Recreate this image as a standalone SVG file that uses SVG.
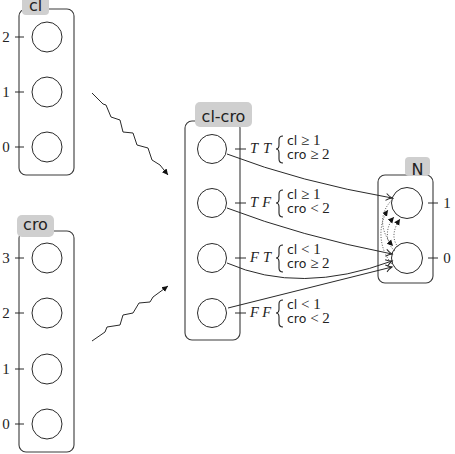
<svg xmlns="http://www.w3.org/2000/svg" width="455" height="454" viewBox="0 0 455 454">
<style>
.box{fill:none;stroke:#3a3a3a;stroke-width:1.1}
.lab{fill:#cfcfcf;stroke:none}
.st{fill:#fff;stroke:#2a2a2a;stroke-width:1}
.tick{stroke:#2a2a2a;stroke-width:1}
.num{font-family:"Liberation Serif",serif;font-size:15px;fill:#222}
.sans{font-family:"DejaVu Sans",sans-serif;font-size:16px;fill:#222}
.math{font-family:"Liberation Serif",serif;font-style:italic;font-size:14.5px;fill:#222}
.cond{font-family:"Liberation Serif",serif;font-size:15px;fill:#222}
.cs{font-family:"DejaVu Sans",sans-serif;font-size:12.5px}
.edge{fill:none;stroke:#2a2a2a;stroke-width:1}
.dot{fill:none;stroke:#555;stroke-width:1;stroke-dasharray:1 1.6}
.brace{fill:none;stroke:#222;stroke-width:1.1}
</style>
<defs>
<marker id="to" markerWidth="10" markerHeight="10" refX="7" refY="5" orient="auto" markerUnits="userSpaceOnUse">
<path d="M1,1.5 Q4,4 7,5 Q4,6 1,8.5" fill="none" stroke="#2a2a2a" stroke-width="1"/>
</marker>
<marker id="tri" markerWidth="8" markerHeight="8" refX="6" refY="4" orient="auto" markerUnits="userSpaceOnUse">
<path d="M0,1 L6,4 L0,7 Z" fill="#111"/>
</marker>
<path id="br" d="M283,-13 Q279,-13 279,-9 L279,-4 Q279,0 276,0 Q279,0 279,4 L279,10 Q279,14 283,14"/>
</defs>

<g id="cl">
<rect class="box" x="19" y="9" width="55" height="166" rx="7"/>
<rect class="lab" x="22" y="-8" width="27" height="23" rx="4"/>
<text class="sans" x="35.5" y="11" text-anchor="middle">cl</text>
<line class="tick" x1="15" y1="37" x2="24" y2="37"/>
<line class="tick" x1="15" y1="92" x2="24" y2="92"/>
<line class="tick" x1="15" y1="147" x2="24" y2="147"/>
<text class="num" x="6" y="42" text-anchor="middle">2</text>
<text class="num" x="6" y="97" text-anchor="middle">1</text>
<text class="num" x="6" y="152" text-anchor="middle">0</text>
<circle class="st" cx="47" cy="37" r="15"/>
<circle class="st" cx="47" cy="92" r="15"/>
<circle class="st" cx="47" cy="147" r="15"/>
</g>

<g id="cro">
<rect class="box" x="19" y="231" width="55" height="221" rx="7"/>
<rect class="lab" x="17" y="215" width="37" height="22" rx="5"/>
<text class="sans" x="35.5" y="230" text-anchor="middle">cro</text>
<line class="tick" x1="15" y1="258" x2="24" y2="258"/>
<line class="tick" x1="15" y1="313" x2="24" y2="313"/>
<line class="tick" x1="15" y1="369" x2="24" y2="369"/>
<line class="tick" x1="15" y1="424" x2="24" y2="424"/>
<text class="num" x="6" y="263" text-anchor="middle">3</text>
<text class="num" x="6" y="318" text-anchor="middle">2</text>
<text class="num" x="6" y="374" text-anchor="middle">1</text>
<text class="num" x="6" y="429" text-anchor="middle">0</text>
<circle class="st" cx="47" cy="258" r="15"/>
<circle class="st" cx="47" cy="313" r="15"/>
<circle class="st" cx="47" cy="369" r="15"/>
<circle class="st" cx="47" cy="424" r="15"/>
</g>

<g id="clcro">
<rect class="box" x="185" y="121" width="55" height="219" rx="7"/>
<rect class="lab" x="195" y="102" width="57" height="25" rx="5"/>
<text class="sans" x="223.5" y="122" text-anchor="middle">cl-cro</text>
<line class="tick" x1="235" y1="149" x2="246" y2="149"/>
<line class="tick" x1="235" y1="203" x2="246" y2="203"/>
<line class="tick" x1="235" y1="258" x2="246" y2="258"/>
<line class="tick" x1="235" y1="313" x2="246" y2="313"/>
<circle class="st" cx="212" cy="149" r="14.5"/>
<circle class="st" cx="212" cy="203" r="14.5"/>
<circle class="st" cx="212" cy="258" r="14.5"/>
<circle class="st" cx="212" cy="313" r="14.5"/>
<text class="math" x="250" y="153" textLength="21">TT</text>
<text class="math" x="250" y="207" textLength="21">TF</text>
<text class="math" x="250" y="262" textLength="21">FT</text>
<text class="math" x="250" y="317" textLength="21">FF</text>
<use href="#br" class="brace" transform="translate(0,149)"/>
<use href="#br" class="brace" transform="translate(0,203)"/>
<use href="#br" class="brace" transform="translate(0,258)"/>
<use href="#br" class="brace" transform="translate(0,313)"/>
<text class="cond" x="287" y="145"><tspan class="cs">cl</tspan> ≥ 1</text>
<text class="cond" x="287" y="159"><tspan class="cs">cro</tspan> ≥ 2</text>
<text class="cond" x="287" y="199"><tspan class="cs">cl</tspan> ≥ 1</text>
<text class="cond" x="287" y="213"><tspan class="cs">cro</tspan> &lt; 2</text>
<text class="cond" x="287" y="254"><tspan class="cs">cl</tspan> &lt; 1</text>
<text class="cond" x="287" y="268"><tspan class="cs">cro</tspan> ≥ 2</text>
<text class="cond" x="287" y="309"><tspan class="cs">cl</tspan> &lt; 1</text>
<text class="cond" x="287" y="323"><tspan class="cs">cro</tspan> &lt; 2</text>
</g>

<g id="N">
<rect class="box" x="378" y="175" width="55" height="108" rx="7"/>
<rect class="lab" x="405" y="157" width="25" height="19" rx="4"/>
<text class="sans" x="417.5" y="175" text-anchor="middle">N</text>
<line class="tick" x1="428" y1="203" x2="438" y2="203"/>
<line class="tick" x1="428" y1="258" x2="438" y2="258"/>
<text class="num" x="447" y="208" text-anchor="middle">1</text>
<text class="num" x="447" y="263" text-anchor="middle">0</text>
<circle class="st" cx="407" cy="203" r="15.5"/>
<circle class="st" cx="407" cy="258" r="15.5"/>
</g>

<g id="connectors">
<polyline class="edge" marker-end="url(#tri)" points="92,93 103,104 106,105 111,117 120,120 123,132 133,133 137,145 148,148 152,160 160,165 168,175"/>
<polyline class="edge" marker-end="url(#tri)" points="92,341 105,332 107,327 120,325 123,315 133,313 139,303 150,302 153,297 168,286"/>
<path class="edge" marker-end="url(#to)" d="M227,154 Q300,182 392,198"/>
<path class="edge" marker-end="url(#to)" d="M227,208 Q300,236 392,254"/>
<path class="edge" marker-end="url(#to)" d="M227,263 Q300,295 392,261"/>
<path class="edge" marker-end="url(#to)" d="M228,308 L392,267"/>
<path class="dot" marker-end="url(#tri)" d="M392,264 C378,248 378,224 388,210"/>
<path class="dot" marker-end="url(#tri)" d="M395,251 C384,242 386,226 394,217"/>
<path class="dot" marker-end="url(#tri)" d="M398,247 C391,238 394,228 400,219"/>
<path class="dot" marker-end="url(#tri)" d="M394,198 C377,213 381,233 393,246"/>
</g>
</svg>
